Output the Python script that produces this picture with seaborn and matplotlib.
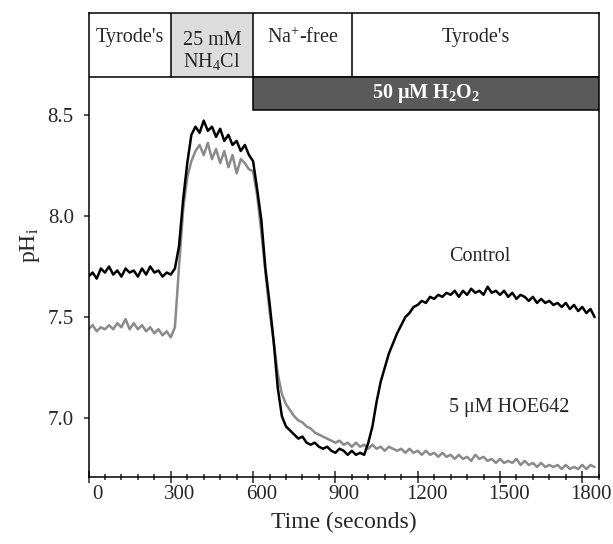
import numpy as np
import pandas as pd
import matplotlib
matplotlib.use("Agg")
import matplotlib.pyplot as plt
from matplotlib.patches import Rectangle
from matplotlib.ticker import MultipleLocator
from matplotlib.transforms import ScaledTranslation
import seaborn as sns

time_s = np.arange(0, 1846, 15)

control_ph = [
    7.70, 7.72, 7.69, 7.74, 7.72, 7.75, 7.71, 7.73, 7.70, 7.74,
    7.72, 7.73, 7.70, 7.74, 7.71, 7.75, 7.72, 7.73, 7.70, 7.72,
    7.71, 7.74, 7.85, 8.08, 8.26, 8.40, 8.44, 8.41, 8.47, 8.42,
    8.44, 8.39, 8.43, 8.37, 8.40, 8.35, 8.37, 8.32, 8.35, 8.30,
    8.27, 8.13, 7.98, 7.74, 7.57, 7.38, 7.15, 7.01, 6.96, 6.94,
    6.92, 6.90, 6.91, 6.88, 6.87, 6.88, 6.86, 6.85, 6.86, 6.84,
    6.83, 6.85, 6.84, 6.82, 6.84, 6.82, 6.83, 6.82, 6.88, 6.96,
    7.08, 7.18, 7.25, 7.32, 7.37, 7.42, 7.46, 7.50, 7.52, 7.55,
    7.56, 7.58, 7.57, 7.60, 7.59, 7.61, 7.60, 7.62, 7.61, 7.63,
    7.60, 7.63, 7.61, 7.64, 7.62, 7.63, 7.61, 7.65, 7.62, 7.63,
    7.61, 7.63, 7.60, 7.62, 7.59, 7.61, 7.60, 7.58, 7.60, 7.57,
    7.59, 7.57, 7.58, 7.56, 7.57, 7.55, 7.57, 7.54, 7.56, 7.53,
    7.55, 7.52, 7.54, 7.50,
]

hoe642_ph = [
    7.44, 7.46, 7.43, 7.45, 7.44, 7.46, 7.44, 7.47, 7.45, 7.49,
    7.44, 7.47, 7.44, 7.46, 7.43, 7.45, 7.42, 7.44, 7.41, 7.43,
    7.40, 7.45, 7.75, 8.03, 8.19, 8.27, 8.32, 8.35, 8.30, 8.36,
    8.28, 8.33, 8.26, 8.32, 8.24, 8.30, 8.21, 8.28, 8.26, 8.23,
    8.22, 8.10, 7.92, 7.72, 7.53, 7.38, 7.22, 7.12, 7.07, 7.04,
    7.01, 6.99, 6.98, 6.96, 6.95, 6.93, 6.92, 6.91, 6.90, 6.89,
    6.88, 6.89, 6.87, 6.88, 6.86, 6.88, 6.86, 6.87, 6.85, 6.87,
    6.85, 6.86, 6.84, 6.86, 6.85, 6.84, 6.85, 6.83, 6.85, 6.83,
    6.84, 6.82, 6.84, 6.82, 6.83, 6.81, 6.83, 6.81, 6.82, 6.80,
    6.82, 6.80, 6.81, 6.79, 6.82, 6.80, 6.81, 6.79, 6.80, 6.78,
    6.80, 6.78, 6.79, 6.78, 6.80, 6.77, 6.79, 6.77, 6.78, 6.76,
    6.78, 6.76, 6.77, 6.76, 6.77, 6.75, 6.77, 6.75, 6.76, 6.75,
    6.77, 6.75, 6.77, 6.76,
]

# solution bar: (start, end, label)
solutions = [
    (0, 300, "Tyrode's"),
    (300, 600, "25 mM\nNH$_4$Cl"),
    (600, 960, "Na$^{+}$-free"),
    (960, 1861, "Tyrode's"),
]
h2o2_start = 600

sns.set_theme(style="ticks")
plt.rcParams["font.family"] = ["Liberation Serif", "DejaVu Serif"]
plt.rcParams["mathtext.fontset"] = "custom"
plt.rcParams["mathtext.rm"] = "Liberation Serif"
plt.rcParams["mathtext.it"] = "Liberation Serif:italic"
plt.rcParams["mathtext.bf"] = "Liberation Serif:bold"

df = pd.DataFrame({
    "time": np.concatenate([time_s, time_s]),
    "ph": control_ph + hoe642_ph,
    "group": ["Control"] * len(time_s) + ["HOE642"] * len(time_s),
})

fig = plt.figure(figsize=(6.13, 5.44), dpi=100)
ax = fig.add_axes([88.5 / 613, 1 - 476.7 / 544, 510.5 / 613, 463.4 / 544])

sns.lineplot(data=df[df.group == "HOE642"], x="time", y="ph", color="#8a8a8a",
             lw=1.8, ax=ax, legend=False)
sns.lineplot(data=df[df.group == "Control"], x="time", y="ph", color="black",
             lw=1.8, ax=ax, legend=False)

xmax = 1861
row_lo, row_hi, bar_lo = 8.684, 9.0, 8.521
ax.set_xlim(0, xmax)
ax.set_ylim(6.712, row_hi)

txt = 14.5
# solution boxes on top
for start, end, label in solutions:
    if "NH" in label:
        ax.add_patch(Rectangle((start, row_lo), end - start, row_hi - row_lo,
                               facecolor="#dcdcdc", edgecolor="none", zorder=1))
    if start > 0:
        ax.plot([start, start], [row_lo, row_hi], color="black", lw=1.1, zorder=3)
    ty = 8.81 if "\n" in label else 8.88
    ax.text((start + end) / 2, ty, label, ha="center", va="center",
            fontsize=txt, linespacing=1.05, zorder=4)
ax.plot([0, xmax], [row_lo, row_lo], color="black", lw=1.1, zorder=3)
ax.add_patch(Rectangle((h2o2_start, bar_lo), xmax - h2o2_start, row_lo - bar_lo,
                       facecolor="#5a5a5a", edgecolor="black", lw=1.1, zorder=3))
ax.text((h2o2_start + xmax) / 2, (bar_lo + row_lo) / 2,
        r"50 μM H$_\mathbf{2}$O$_\mathbf{2}$", color="white", fontweight="bold",
        ha="center", va="center", fontsize=txt, zorder=4)

ax.text(1427, 7.80, "Control", ha="center", va="center", fontsize=txt)
ax.text(1533, 7.055, "5 μM HOE642", ha="center", va="center", fontsize=txt)

ax.xaxis.set_major_locator(MultipleLocator(300))
ax.xaxis.set_minor_locator(MultipleLocator(60))
ax.set_yticks([7.0, 7.5, 8.0, 8.5])
ax.set_yticklabels(["7.0", "7.5", "8.0", "8.5"])
ax.tick_params(axis="x", which="major", direction="inout", length=8, width=1.1,
               labelsize=15, pad=2)
ax.tick_params(axis="x", which="minor", direction="inout", length=4.5, width=1.1)
ax.tick_params(axis="y", which="major", direction="out", length=3.6, width=1.1,
               labelsize=15, pad=7)
shift = ScaledTranslation(0.09, 0, fig.dpi_scale_trans)
for lab in ax.get_xticklabels():
    lab.set_transform(lab.get_transform() + shift)

for sp in ax.spines.values():
    sp.set_linewidth(1.1)
    sp.set_color("black")

ax.set_xlabel("Time (seconds)", fontsize=17)
ax.set_ylabel("pH$_\\mathrm{i}$", fontsize=17)
ax.xaxis.set_label_coords(0.5, -0.0977)
ax.xaxis.label.set_va("center")
ax.yaxis.set_label_coords(-0.1146, 0.5)
ax.yaxis.label.set_va("center")

fig.savefig("out.png", dpi=100)
